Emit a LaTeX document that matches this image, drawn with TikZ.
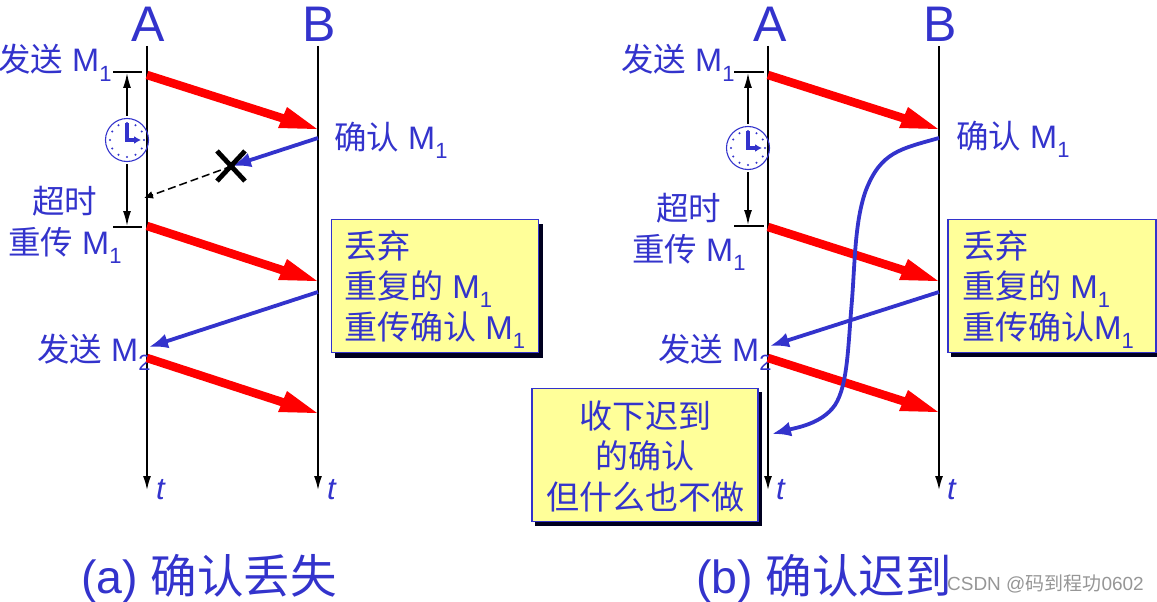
\documentclass[tikz,border=0pt]{standalone}
\usepackage{fontspec}
\setmainfont{Liberation Sans}
\newfontfamily\cjk{Noto Sans CJK SC}
\usetikzlibrary{arrows.meta,calc}
\definecolor{bl}{RGB}{51,51,204}
\definecolor{boxy}{RGB}{255,255,153}
\definecolor{wm}{RGB}{150,150,150}
\newcommand{\cn}[1]{{\cjk #1}}
\newcommand{\low}[1]{\raisebox{-9.5pt}{\fontsize{22}{22}\selectfont #1}}
\tikzset{
 x=1pt,y=-1pt,
 lbl/.style={text=bl,font=\fontsize{32.5}{36}\selectfont,inner sep=0pt,anchor=base west},
 headtxt/.style={text=bl,font=\fontsize{50}{50}\selectfont,inner sep=0pt,anchor=base},
 captxt/.style={text=bl,font=\fontsize{46.5}{50}\selectfont,inner sep=0pt,anchor=base west},
 teetxt/.style={text=bl,font=\itshape\fontsize{31}{31}\selectfont,inner sep=0pt,anchor=base west},
 lifeline/.style={black,line width=1.6pt,-{Latex[length=14pt,width=8pt]}},
 redline/.style={red,line width=8.5pt},
 redhead/.style={fill=red},
 bluearr/.style={bl,line width=3.8pt,-{Latex[length=19pt,width=15pt]}},
 timerarr/.style={black,line width=1.5pt,{Latex[length=15pt,width=8pt]}-{Latex[length=15pt,width=8pt]}},
 tickline/.style={black,line width=1.5pt},
 notebox/.style={draw=bl,line width=1.2pt,fill=boxy,inner sep=0pt},
 noteshadow/.style={fill=black!88!blue},
 notetext/.style={text=bl,font=\fontsize{33}{36}\selectfont,inner sep=0pt},
}
\newcommand{\clockface}[1]{%
 \draw[bl,line width=1.1pt] (#1) circle (21.5);
 \foreach \a in {0,30,...,330} \fill[bl] ($(#1)+(\a:17)$) circle (1.2);
 \draw[bl,line width=3.2pt] ($(#1)+(0,-17)$) -- ($(#1)+(0,1.6)$);
 \draw[bl,line width=3.2pt,-{Latex[length=7pt,width=8pt]}] (#1) -- ($(#1)+(14,0)$);
}
% red message arrow with its skewed head: start, tip
\newcommand{\redmsg}[2]{%
 \draw[redline] (#1) -- ($(#2)+(-32,-10)$);
 \fill[redhead] (#2) -- ($(#2)+(-30,-22)$) -- ($(#2)+(-39,-1)$) -- cycle;
}
\begin{document}
\begin{tikzpicture}
\useasboundingbox (0,0) rectangle (1157,602);
% ---- coordinates
\coordinate (a1t) at (147,46); \coordinate (a1b) at (147,490);
\coordinate (b1t) at (318,46); \coordinate (b1b) at (318,490);
\coordinate (a2t) at (768,46); \coordinate (a2b) at (768,490);
\coordinate (b2t) at (939,46); \coordinate (b2b) at (939,490);
% ---- lifelines
\draw[lifeline] (a1t) -- (a1b);
\draw[lifeline] (b1t) -- (b1b);
\draw[lifeline] (a2t) -- (a2b);
\draw[lifeline] (b2t) -- (b2b);
\node[headtxt] (hA1) at (148,42) {A};
\node[headtxt] (hB1) at (319,42) {B};
\node[headtxt] (hA2) at (770,42) {A};
\node[headtxt] (hB2) at (940,42) {B};
\node[teetxt] (t1) at (156,499) {t};
\node[teetxt] (t2) at (327,499) {t};
\node[teetxt] (t3) at (776,499) {t};
\node[teetxt] (t4) at (947,499) {t};
% ---- panel a: labels
\node[lbl] (la1) at (-2,72) {\cn{发送} M\low{1}};
\node[lbl] (la2) at (32,213) {\cn{超时}};
\node[lbl] (la3) at (8,254) {\cn{重传} M\low{1}};
\node[lbl] (la4) at (334,149) {\cn{确认} M\low{1}};
\node[lbl] (la5) at (37,361) {\cn{发送} M\low{2}};
% ---- panel a: timer
\coordinate (tk1a) at (113,72); \coordinate (tk1b) at (142,72);
\coordinate (tk2a) at (113,227); \coordinate (tk2b) at (142,227);
\draw[tickline] (tk1a) -- (tk1b);
\draw[tickline] (tk2a) -- (tk2b);
\coordinate (ck1) at (127,140);
\draw[timerarr] (127,73) -- (127,226);
\fill[white] (ck1) circle (24);
\draw[black,line width=1.6pt] (147,110) -- (147,172);
\clockface{ck1}
% ---- panel a: messages
\coordinate (r1s) at (147,75); \coordinate (r1e) at (317,129);
\coordinate (r2s) at (147,226); \coordinate (r2e) at (317,281);
\coordinate (r3s) at (147,358); \coordinate (r3e) at (317,413);
\redmsg{r1s}{r1e}
\redmsg{r2s}{r2e}
\redmsg{r3s}{r3e}
\coordinate (ls) at (318,138); \coordinate (lx) at (232,166);
\draw[bluearr] (ls) -- (lx);
\coordinate (dashe) at (144,198);
\draw[black,line width=1.5pt,dash pattern=on 8pt off 4pt,-{Latex[length=9pt,width=8pt]}] (lx) -- (dashe);
\draw[black,line width=4.8pt] (217,151) -- (245,181);
\draw[black,line width=4.8pt] (245,151) -- (217,181);
\coordinate (bk1s) at (318,292); \coordinate (bk1e) at (149,347);
\draw[bluearr] (bk1s) -- (bk1e);
% ---- panel a: box
\fill[noteshadow] (335,224) rectangle (543,358);
\node[notebox,minimum width=207pt,minimum height=133pt] (n1) at (435,286) {};
\node[notetext,anchor=base west] (n1a) at (344,258) {\cn{丢弃}};
\node[notetext,anchor=base west] (n1b) at (344,298) {\cn{重复的} M\low{1}};
\node[notetext,anchor=base west] (n1c) at (344,339) {\cn{重传确认} M\low{1}};
% ---- panel b: labels
\node[lbl] (lb1) at (621,72) {\cn{发送} M\low{1}};
\node[lbl] (lb2) at (656,220) {\cn{超时}};
\node[lbl] (lb3) at (632,261) {\cn{重传} M\low{1}};
\node[lbl] (lb4) at (956,148) {\cn{确认} M\low{1}};
\node[lbl] (lb5) at (658,361) {\cn{发送} M\low{2}};
% ---- panel b: timer
\coordinate (tk3a) at (734,72); \coordinate (tk3b) at (764,72);
\coordinate (tk4a) at (734,226); \coordinate (tk4b) at (764,226);
\draw[tickline] (tk3a) -- (tk3b);
\draw[tickline] (tk4a) -- (tk4b);
\coordinate (ck2) at (748,148);
\draw[timerarr] (748,73) -- (748,225);
\fill[white] (ck2) circle (24);
\draw[black,line width=1.6pt] (768,118) -- (768,180);
\clockface{ck2}
% ---- panel b: messages
\coordinate (r4s) at (768,75); \coordinate (r4e) at (938,129);
\coordinate (r5s) at (768,227); \coordinate (r5e) at (938,281);
\coordinate (r6s) at (768,358); \coordinate (r6e) at (938,412);
\redmsg{r4s}{r4e}
\redmsg{r5s}{r5e}
\redmsg{r6s}{r6e}
\coordinate (cs) at (939,138); \coordinate (ce) at (772,434);
\draw[bluearr] (cs) .. controls (900,149) and (881,152) .. (866,190)
  .. controls (855,220) and (855,260) .. (852,300)
  .. controls (848,345) and (848,385) .. (835,405)
  .. controls (822,424) and (795,428) .. (ce);
\coordinate (bk2s) at (939,292); \coordinate (bk2e) at (770,346);
\draw[bluearr] (bk2s) -- (bk2e);
% ---- panel b: boxes
\fill[noteshadow] (951,224) rectangle (1157,357);
\node[notebox,minimum width=208pt,minimum height=133pt] (n2) at (1052,286) {};
\node[notetext,anchor=base west] (n2a) at (962,258) {\cn{丢弃}};
\node[notetext,anchor=base west] (n2b) at (962,298) {\cn{重复的} M\low{1}};
\node[notetext,anchor=base west] (n2c) at (962,339) {\cn{重传确认}M\low{1}};
\fill[noteshadow] (535,392) rectangle (762,526);
\node[notebox,minimum width=226pt,minimum height=133pt] (n3) at (645,455) {};
\node[notetext,anchor=base] (n3a) at (645,428) {\cn{收下迟到}};
\node[notetext,anchor=base] (n3b) at (645,468) {\cn{的确认}};
\node[notetext,anchor=base] (n3c) at (645,509) {\cn{但什么也不做}};
% ---- captions
\node[captxt] (c1) at (81,593) {(a) \cn{确认丢失}};
\node[captxt] (c2) at (696,593) {(b) \cn{确认迟到}};
\node[inner sep=0pt,anchor=base east,text=wm,font=\fontsize{19}{19}\selectfont] (wmk) at (1144,590) {CSDN @\cn{码到程功}0602};
\end{tikzpicture}
\end{document}
